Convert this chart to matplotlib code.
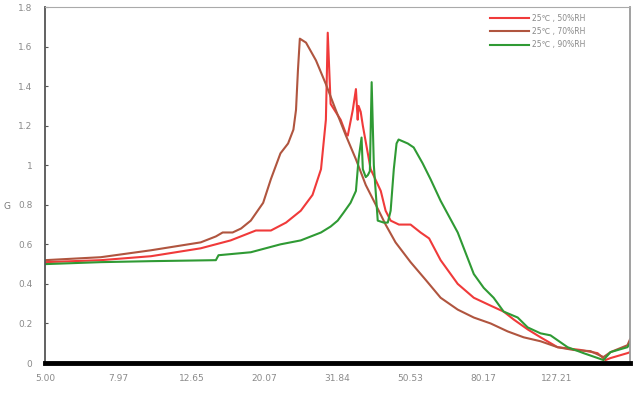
import numpy as np
import matplotlib
matplotlib.use("Agg")
import matplotlib.pyplot as plt

# frequency (log axis) and G values
freq_50 = [5.0, 7.12, 9.78, 13.4, 16.2, 19.0, 20.9, 23.0, 25.25, 27.2, 28.7, 29.6, 29.95,
           30.5, 32.5, 33.6, 34.0, 35.1, 35.8, 36.2, 36.4, 36.9, 37.4, 39.3, 41.9, 43.2,
           44.6, 47.0, 50.6, 53.9, 56.9, 61.2, 68.2, 75.5, 84.0, 91.2, 97.2, 106.2, 115.2,
           128.3, 148.4, 165.2, 173.8, 179.4, 199.7, 203.0]
g_50 = [0.51, 0.52, 0.54, 0.58, 0.62, 0.67, 0.67, 0.71, 0.77, 0.85, 0.98, 1.23, 1.67,
        1.31, 1.23, 1.16, 1.15, 1.28, 1.385, 1.23, 1.30, 1.27, 1.20, 0.98, 0.87, 0.77,
        0.72, 0.70, 0.70, 0.66, 0.63, 0.52, 0.40, 0.33, 0.29, 0.26, 0.22, 0.17, 0.13,
        0.08, 0.066, 0.05, 0.015, 0.025, 0.05, 0.055]

freq_70 = [5.0, 7.12, 9.78, 13.4, 14.75, 15.4, 16.4, 17.3, 18.4, 19.9, 20.9, 22.2, 23.3,
           24.1, 24.5, 24.8, 25.1, 26.1, 27.8, 29.6, 31.5, 33.6, 35.8, 38.1, 40.6, 43.2,
           46.0, 50.6, 55.7, 61.2, 68.2, 75.5, 84.0, 93.5, 103.5, 115.2, 128.3, 141.9,
           158.1, 171.6, 179.4, 199.7, 203.0]
g_70 = [0.52, 0.535, 0.57, 0.61, 0.64, 0.66, 0.66, 0.68, 0.72, 0.81, 0.93, 1.06, 1.11,
        1.18, 1.28, 1.48, 1.64, 1.62, 1.53, 1.41, 1.28, 1.15, 1.03, 0.90, 0.80, 0.70,
        0.61, 0.51, 0.42, 0.33, 0.27, 0.23, 0.20, 0.16, 0.13, 0.11, 0.08, 0.066,
        0.06, 0.03, 0.055, 0.09, 0.12]

freq_90 = [5.0, 7.12, 9.78, 14.75, 15.0, 18.4, 22.2, 25.25, 28.7, 30.5, 31.9, 33.1, 34.6,
           35.8, 36.4, 37.1, 37.4, 38.1, 38.6, 39.1, 39.55, 40.1, 41.1, 42.7, 43.8, 44.6,
           45.5, 46.3, 46.9, 49.7, 51.6, 54.6, 57.4, 61.2, 68.2, 75.5, 80.4, 85.6, 91.2,
           99.7, 106.2, 115.2, 122.7, 136.7, 151.2, 171.6, 179.4, 199.7, 203.0]
g_90 = [0.50, 0.51, 0.515, 0.52, 0.545, 0.56, 0.60, 0.62, 0.66, 0.69, 0.72, 0.76, 0.81,
        0.87, 1.03, 1.14, 0.98, 0.94, 0.95, 0.97, 1.42, 1.0, 0.72, 0.71, 0.71, 0.77,
        0.98, 1.11, 1.13, 1.11, 1.09, 1.01, 0.93, 0.82, 0.66, 0.45, 0.38, 0.33, 0.26,
        0.23, 0.18, 0.15, 0.14, 0.08, 0.05, 0.015, 0.055, 0.08, 0.10]

x_ticks = [5.00, 7.97, 12.65, 20.07, 31.84, 50.53, 80.17, 127.21]
y_ticks = [0, 0.2, 0.4, 0.6, 0.8, 1, 1.2, 1.4, 1.6, 1.8]
labels = ["25\u2103 , 50%RH", "25\u2103 , 70%RH", "25\u2103 , 90%RH"]
colors = ["#f03a3a", "#b0553f", "#2f9a34"]

fig = plt.figure(figsize=(6.38, 3.96), dpi=100)
ax = fig.add_axes([0.0705, 0.0833, 0.917, 0.899])

for fx, gy, lab, c in zip([freq_50, freq_70, freq_90], [g_50, g_70, g_90], labels, colors):
    ax.plot(fx, gy, color=c, lw=1.5, label=lab)

ax.set_xscale("log")
ax.set_xlim(5.0, 203.0)
ax.set_ylim(0, 1.8)
ax.axhline(0, color="black", lw=3.5, zorder=5, clip_on=False)

ax.set_xticks(x_ticks)
ax.set_xticklabels(["%.2f" % t for t in x_ticks])
ax.xaxis.set_minor_locator(matplotlib.ticker.NullLocator())
ax.set_yticks(y_ticks)
ax.set_yticklabels([("%g" % t) for t in y_ticks])
ax.tick_params(axis="x", length=0, pad=8, labelsize=6.5, labelcolor="#8a8a8a")
ax.tick_params(axis="y", direction="in", length=2.5, width=0.8, color="#555555",
               pad=9, labelsize=6.5, labelcolor="#8a8a8a")

ax.spines["left"].set_color("#555555")
ax.spines["left"].set_linewidth(1.3)
ax.spines["bottom"].set_visible(False)
ax.spines["top"].set_color("#aaaaaa")
ax.spines["right"].set_color("#999999")
ax.spines["right"].set_linewidth(1.3)

ax.text(-0.065, 0.44, "G", transform=ax.transAxes, fontsize=6.5, color="#777777",
        ha="center", va="center")

leg = ax.legend(loc="upper right", bbox_to_anchor=(0.935, 1.0), frameon=False,
                fontsize=5.5, handlelength=5.2, handletextpad=0.3, labelspacing=0.55)
for t in leg.get_texts():
    t.set_color("#8a8a8a")

fig.savefig("out.png", dpi=100)
